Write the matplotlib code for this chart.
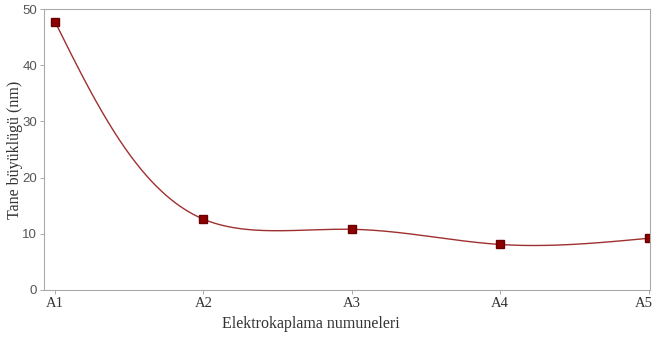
import numpy as np
import matplotlib.pyplot as plt
from matplotlib.transforms import ScaledTranslation

samples = ["A1", "A2", "A3", "A4", "A5"]
grain_size = [47.7, 12.6, 10.8, 8.1, 9.2]


def natural_spline(t, y, ts):
    t = np.asarray(t, float)
    y = np.asarray(y, float)
    n = len(t)
    h = np.diff(t)
    A = np.zeros((n, n))
    b = np.zeros(n)
    A[0, 0] = A[-1, -1] = 1
    for i in range(1, n - 1):
        A[i, i - 1] = h[i - 1]
        A[i, i] = 2 * (h[i - 1] + h[i])
        A[i, i + 1] = h[i]
        b[i] = 6 * ((y[i + 1] - y[i]) / h[i] - (y[i] - y[i - 1]) / h[i - 1])
    m = np.linalg.solve(A, b)
    i = np.clip(np.searchsorted(t, ts, side="right") - 1, 0, n - 2)
    a, bb = t[i], t[i + 1]
    hi = bb - a
    return (m[i] * (bb - ts) ** 3 / (6 * hi) + m[i + 1] * (ts - a) ** 3 / (6 * hi)
            + (y[i] / hi - m[i] * hi / 6) * (bb - ts)
            + (y[i + 1] / hi - m[i + 1] * hi / 6) * (ts - a))


x = np.arange(len(samples))
# parametric spline in screen-like units
sx, sy = 148.0, 5.62
px = x * sx
py = np.array(grain_size) * sy
t = np.concatenate([[0], np.cumsum(np.hypot(np.diff(px), np.diff(py)) ** 0.75)])
ts = np.linspace(0, t[-1], 600)
xs = natural_spline(t, px, ts) / sx
ys = natural_spline(t, py, ts) / sy

fig = plt.figure(figsize=(6.54, 3.4), dpi=100)
ax = fig.add_axes([44 / 654, 50 / 340, 606 / 654, 281 / 340])

ax.plot(xs, ys, color="#a03030", lw=1.0)
ax.plot(x, grain_size, "s", color="#8b0000", ms=6, mec="#6a0000")

ax.set_xlim(-0.075, 4.01)
ax.set_ylim(0, 50)
ax.set_yticks([0, 10, 20, 30, 40, 50])
ax.set_xticks(x)
ax.set_xticklabels(samples, family="Liberation Serif", fontsize=10.5, color="#333333")
for lab in ax.get_yticklabels():
    lab.set_family("Liberation Sans")
    lab.set_fontsize(9.5)
    lab.set_color("#555555")

for s in ax.spines.values():
    s.set_color("#aaaaaa")
    s.set_linewidth(0.8)
ax.tick_params(axis="both", color="#aaaaaa", length=3, width=0.7)
ax.tick_params(axis="y", pad=2)
ax.tick_params(axis="x", pad=2)

ax.set_ylabel("Tane büyüklügü (nm)", family="Liberation Serif", fontsize=11.5, color="#333333")
ax.yaxis.set_label_coords((23 - 44) / 606, 0.5)
ax.set_xlabel("Elektrokaplama numuneleri", family="Liberation Serif", fontsize=11.5, color="#333333")
ax.xaxis.set_label_coords((311 - 44) / 606, -26 / 281)

fig.canvas.draw()
lab = ax.xaxis.get_major_ticks()[-1].label1
lab.set_transform(lab.get_transform() + ScaledTranslation(-5 / 100, 0, fig.dpi_scale_trans))

fig.savefig("out.png", dpi=100)
